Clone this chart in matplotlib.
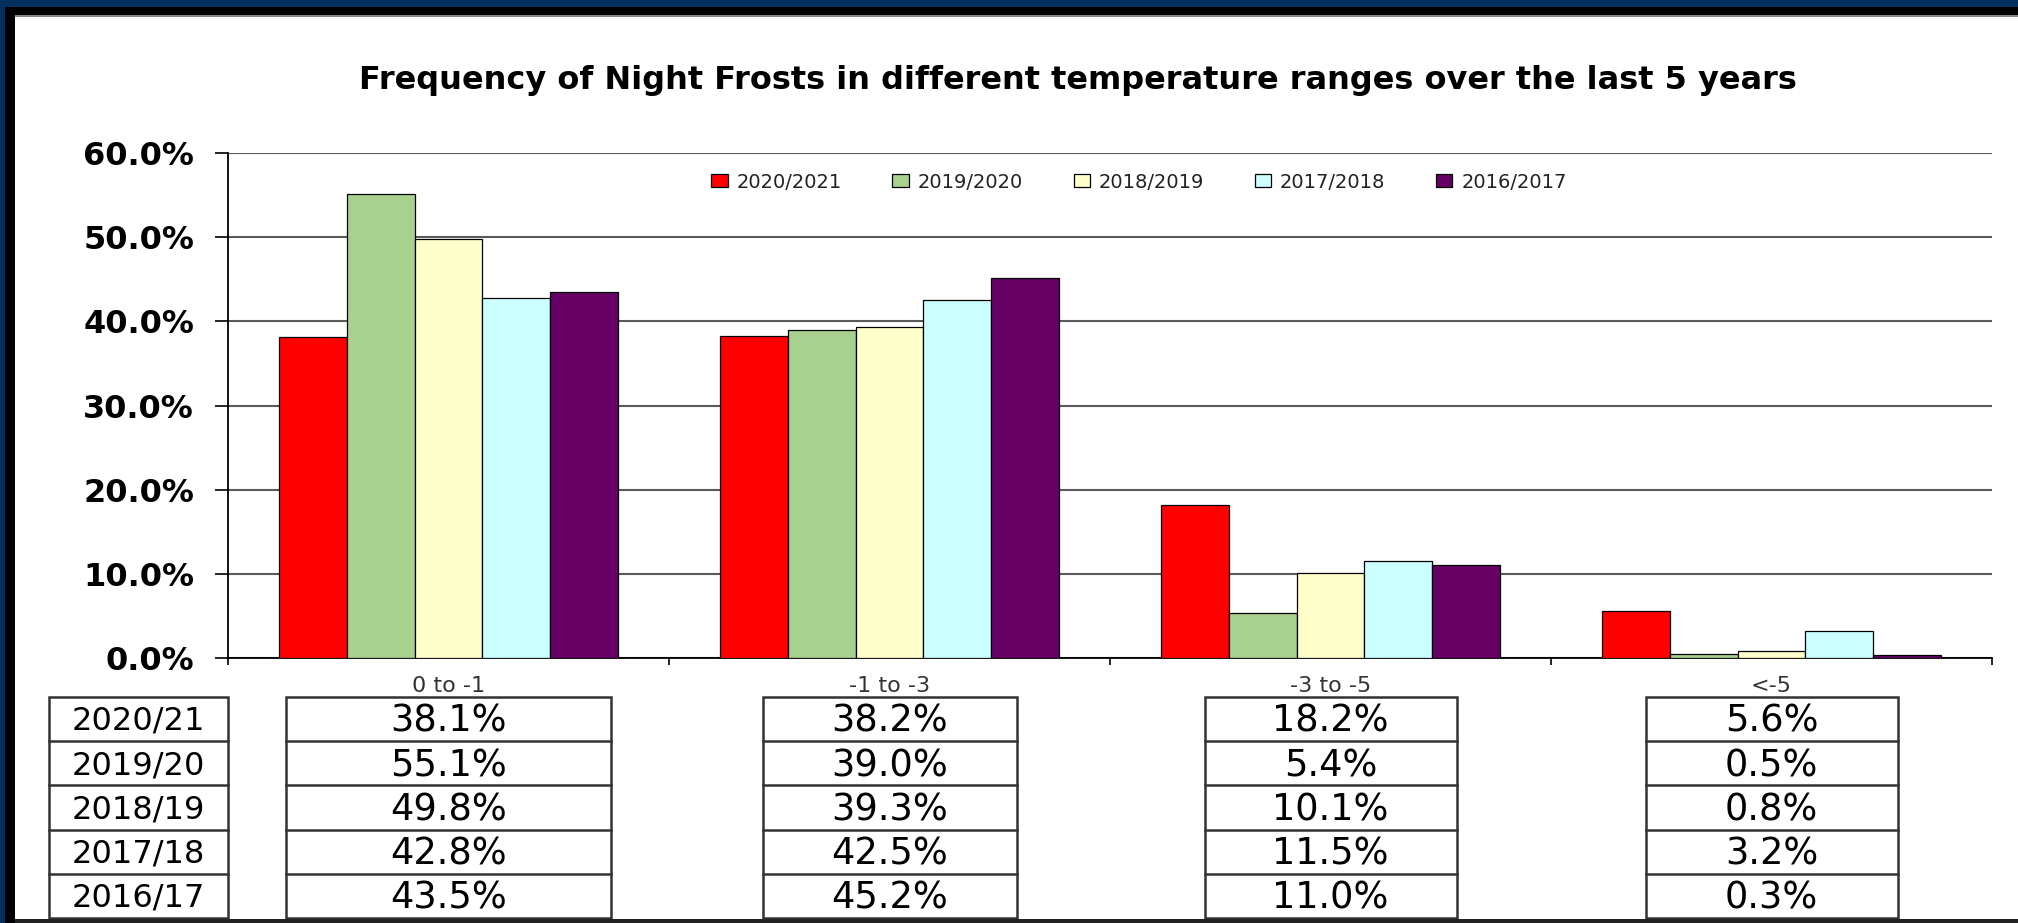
import matplotlib
matplotlib.use('Agg')
import matplotlib.pyplot as plt
from matplotlib.patches import Rectangle
from matplotlib.lines import Line2D
import numpy as np

# ---------------- data ----------------
title = 'Frequency of Night Frosts in different temperature ranges over the last 5 years'
categories = ['0 to -1', '-1 to -3', '-3 to -5', '<-5']
legend_labels = ['2020/2021', '2019/2020', '2018/2019', '2017/2018', '2016/2017']
table_labels = ['2020/21', '2019/20', '2018/19', '2017/18', '2016/17']
v_2020_21 = [38.1, 38.2, 18.2, 5.6]
v_2019_20 = [55.1, 39.0, 5.4, 0.5]
v_2018_19 = [49.8, 39.3, 10.1, 0.8]
v_2017_18 = [42.8, 42.5, 11.5, 3.2]
v_2016_17 = [43.5, 45.2, 11.0, 0.3]
series = [v_2020_21, v_2019_20, v_2018_19, v_2017_18, v_2016_17]
colors = ['#FF0000', '#A9D18E', '#FFFFCC', '#CCFFFF', '#660066']
yticks = [0, 10, 20, 30, 40, 50, 60]

# ---------------- layout ----------------
W, H = 2018, 923
fig = plt.figure(figsize=(W / 100, H / 100), dpi=100)
fig.patch.set_facecolor('white')

def fx(px):
    return px / W

def fy(py):
    return 1 - py / H

def add_rect(x0, y0, x1, y1, **kw):
    r = Rectangle((fx(x0), fy(y1)), (x1 - x0) / W, (y1 - y0) / H,
                  transform=fig.transFigure, **kw)
    fig.add_artist(r)
    return r

# frame border (blue + black bands)
add_rect(0, 0, W, 7, facecolor='#01305E', edgecolor='none', zorder=10)
add_rect(0, 7, W, 15, facecolor='black', edgecolor='none', zorder=10)
add_rect(0, 15, W, 16.5, facecolor='#888888', edgecolor='none', zorder=10)
add_rect(0, 0, 5, H, facecolor='#01305E', edgecolor='none', zorder=11)
add_rect(5, 7, 15, H, facecolor='black', edgecolor='none', zorder=11)
add_rect(0, 919, W, H, facecolor='#222222', edgecolor='none', zorder=10)

ax_l, ax_r, ax_t, ax_b = 228, 1992, 153, 658
ax = fig.add_axes([fx(ax_l), fy(ax_b), (ax_r - ax_l) / W, (ax_b - ax_t) / H])
ax.set_facecolor('white')

x = np.arange(len(categories))
bw = 0.1537
for i, (vals, c, lab) in enumerate(zip(series, colors, legend_labels)):
    ax.bar(x + (i - 2) * bw, vals, bw, color=c, edgecolor='black',
           linewidth=0.9, label=lab, zorder=3)

ax.set_xlim(-0.5, len(categories) - 0.5)
ax.set_ylim(0, 60)
ax.set_yticks(yticks)
ax.set_yticklabels([f'{v:.1f}%' for v in yticks])
ax.yaxis.grid(True, color='#5a5a5a', linewidth=1.5)
ax.set_axisbelow(True)
for s in ['top', 'right']:
    ax.spines[s].set_visible(False)
for s in ['left', 'bottom']:
    ax.spines[s].set_color('black')
    ax.spines[s].set_linewidth(1.3)
ax.tick_params(axis='y', length=9.4, width=1.2, pad=15, labelsize=23, colors='black')
for lbl in ax.get_yticklabels():
    lbl.set_fontweight('bold')
ax.set_xticks(x)
ax.set_xticklabels(categories)
ax.tick_params(axis='x', which='major', length=0, pad=13, labelsize=16, labelcolor='#333333')
ax.set_xticks(np.arange(-0.5, len(categories), 1.0), minor=True)
ax.tick_params(axis='x', which='minor', length=5, width=1.2, direction='out')

ax.legend(loc='center', bbox_to_anchor=(fx(1139), fy(182)), bbox_transform=fig.transFigure,
          ncol=5, frameon=False, fontsize=14, handlelength=0.85, handleheight=0.6,
          handletextpad=0.45, columnspacing=2.6, labelcolor='#222222')

fig.text(fx(1078), fy(80), title, ha='center', va='center', fontsize=23,
         fontweight='bold', color='black')

# ---------------- data tables below the chart ----------------
row_top, row_h = 697, 44.2
n_rows = len(table_labels)
line_kw = dict(fill=False, edgecolor='#333333', linewidth=1.8, zorder=5)

def draw_table(x0, x1, texts, fontsize):
    add_rect(x0, row_top, x1, row_top + n_rows * row_h, **line_kw)
    for r in range(1, n_rows):
        yy = row_top + r * row_h
        fig.add_artist(Line2D([fx(x0), fx(x1)], [fy(yy), fy(yy)], transform=fig.transFigure,
                              color='#333333', linewidth=1.8, zorder=5))
    for r, t in enumerate(texts):
        fig.text(fx((x0 + x1) / 2), fy(row_top + (r + 0.55) * row_h), t, ha='center',
                 va='center', fontsize=fontsize, color='black')

draw_table(49, 228, table_labels, 23)

fig.canvas.draw()
table_widths = [325, 254, 252, 252]
for ci in range(len(categories)):
    cx = ax.transData.transform((x[ci], 0))[0]
    vals = [f'{s[ci]:.1f}%' for s in series]
    draw_table(cx - table_widths[ci] / 2, cx + table_widths[ci] / 2, vals, 26.5)

fig.savefig('out.png', dpi=100, facecolor=fig.get_facecolor())
